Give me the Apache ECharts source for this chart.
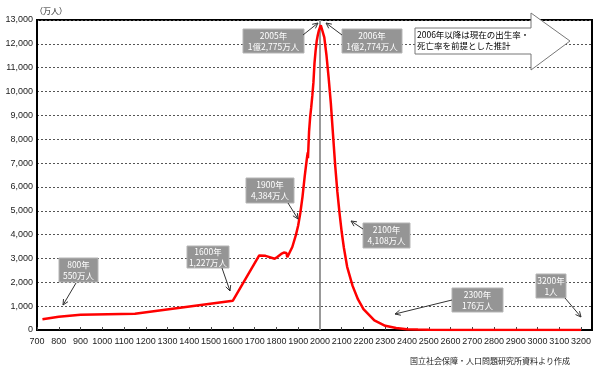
<!DOCTYPE html>
<html><head><meta charset="utf-8">
<script src="https://cdn.jsdelivr.net/npm/echarts@6/dist/echarts.min.js"></script>
<style>html,body{margin:0;padding:0;background:#fff}#c{width:600px;height:373px}</style>
</head><body><div id="c"></div>
<script>
// Data (year, population in 万人)
var years = [725,800,900,1150,1600,1721,1750,1792,1804,1822,1828,1834,1846,1850,1873,1890,1900,1910,1920,1930,1940,1944,1945,1950,1955,1960,1965,1970,1975,1980,1985,1990,1995,2000,2004,2005,2006,2010,2020,2030,2040,2050,2060,2070,2080,2090,2100,2110,2125,2150,2175,2200,2250,2300,2350,2400,2450,2500,2600,2700,2800,2900,3000,3100,3200];
var population = [451,551,644,684,1227,3128,3110,2987,3065,3191,3263,3248,3230,3050,3480,4000,4384,4918,5596,6445,7193,7443,7200,8320,8928,9342,9828,10372,11194,11706,12105,12361,12557,12693,12779,12775,12774,12718,12274,11522,10570,9515,8200,6900,5800,4900,4108,3450,2650,1850,1280,880,400,176,80,36,16,7,1.5,0.3,0.05,0.01,0.001,0.0001,0.00001];
var xTicks = {min:700, max:3250, step:100};
var yTicks = {min:0, max:13000, step:1000};
var dividerYear = 2000;
var annotations = [
  {lines:['800年','550万人']},
  {lines:['1600年','1,227万人']},
  {lines:['1900年','4,384万人']},
  {lines:['2005年','1億2,775万人']},
  {lines:['2006年','1億2,774万人']},
  {lines:['2100年','4,108万人']},
  {lines:['2300年','176万人']},
  {lines:['3200年','1人']}
];
var noteLines = ['2006年以降は現在の出生率・','死亡率を前提とした推計'];
var unitLabel = '（万人）';
var sourceText = '国立社会保障・人口問題研究所資料より作成';

// layout (annotation placement, pixels)
var boxLayout = [
  {r:[59,258,39,24], a:[76,283,63,305]},
  {r:[187,246,42,22], a:[222,268,230,291]},
  {r:[246,178,48,25], a:[288,203,298,219]},
  {r:[243,29,61,24], a:[303,35,318,23]},
  {r:[342,29,60,24], a:[342,35,326,23]},
  {r:[363,223,47,25], a:[363,229,351,221]},
  {r:[452,288,51,24], a:[452,300,395,314]},
  {r:[536,274,30,24], a:[565,298,581,317]}
];

var FONT = '"Noto Sans CJK JP", "Liberation Sans", sans-serif';
var NUMFONT = '"Liberation Sans", Arial, sans-serif';
var seriesData = years.map(function(y,i){return [y, population[i]];});

var graphics = [];
function arrow(x1,y1,x2,y2){
  var ang = Math.atan2(y2-y1, x2-x1), L=6, w=0.45;
  graphics.push({type:'line', silent:true, shape:{x1:x1,y1:y1,x2:x2,y2:y2}, style:{stroke:'#333', lineWidth:1}, z:100});
  graphics.push({type:'polyline', silent:true, shape:{points:[
    [x2 - L*Math.cos(ang-w), y2 - L*Math.sin(ang-w)], [x2,y2],
    [x2 - L*Math.cos(ang+w), y2 - L*Math.sin(ang+w)]]}, style:{stroke:'#333', lineWidth:1, fill:null}, z:100});
}
annotations.forEach(function(an, i){
  var L = boxLayout[i], r = L.r;
  graphics.push({type:'rect', shape:{x:r[0],y:r[1],width:r[2],height:r[3]}, style:{fill:'#959595', stroke:'#b5b5b5', lineWidth:1}, z:100});
  graphics.push({type:'text', x:r[0]+r[2]/2, y:r[1]+r[3]/2, style:{text:an.lines.join('\n'), fill:'#fff', font:'8.5px '+FONT, textAlign:'center', textVerticalAlign:'middle', lineHeight:11}, z:101});
  arrow(L.a[0],L.a[1],L.a[2],L.a[3]);
});
graphics.push({type:'polygon', shape:{points:[[415,28],[531,28],[531,13],[570,41],[531,70],[531,54],[415,54]]}, style:{fill:'#fff', stroke:'#777', lineWidth:1}, z:100});
graphics.push({type:'text', x:417, y:35, style:{text:noteLines[0], fill:'#000', font:'8.5px '+FONT, textVerticalAlign:'middle'}, z:101});
graphics.push({type:'text', x:417, y:46, style:{text:noteLines[1], fill:'#000', font:'8.5px '+FONT, textVerticalAlign:'middle'}, z:101});
graphics.push({type:'text', x:410, y:361, style:{text:sourceText, fill:'#222', font:'8px '+FONT, textVerticalAlign:'middle'}, z:101});

var chart = echarts.init(document.getElementById('c'), null, {renderer:'canvas'});
chart.setOption({
  animation:false,
  grid:{left:37, right:8, top:20, bottom:43, show:true, borderColor:'#000', borderWidth:2, backgroundColor:'transparent'},
  xAxis:{type:'value', min:xTicks.min, max:xTicks.max, interval:xTicks.step,
    axisLine:{lineStyle:{color:'#000', width:2}},
    axisTick:{show:true, inside:true, length:3, lineStyle:{color:'#444'}},
    splitLine:{show:false},
    axisLabel:{color:'#222', fontSize:9, fontFamily:NUMFONT, margin:7, showMaxLabel:false, hideOverlap:false,
      formatter:function(v){return v%100===0? String(v):'';}}
  },
  yAxis:{type:'value', min:yTicks.min, max:yTicks.max, interval:yTicks.step,
    name:unitLabel, nameLocation:'end', nameGap:5,
    nameTextStyle:{color:'#222', fontSize:8, fontFamily:FONT, align:'left', padding:[0,0,0,-2]},
    axisLine:{lineStyle:{color:'#000', width:2}},
    axisTick:{show:false},
    splitLine:{show:true, lineStyle:{color:'#555', type:[2,2], width:1}},
    axisLabel:{color:'#222', fontSize:9, fontFamily:NUMFONT, margin:4,
      formatter:function(v){return v.toLocaleString('en-US');}}
  },
  series:[{type:'line', data:seriesData, showSymbol:false, symbol:'none',
    lineStyle:{color:'#ff0000', width:2.5}, z:5,
    markLine:{silent:true, symbol:['none','none'], label:{show:false},
      lineStyle:{color:'#999', width:2, type:'solid'}, data:[{xAxis:dividerYear}]}
  }],
  graphic:graphics
});
</script></body></html>
